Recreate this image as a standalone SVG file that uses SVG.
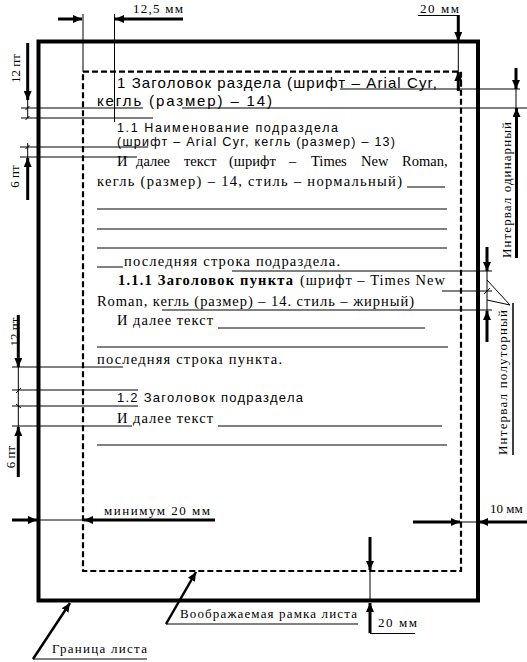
<svg xmlns="http://www.w3.org/2000/svg" width="527" height="662" viewBox="0 0 527 662">
<defs>
<marker id="ah" markerUnits="userSpaceOnUse" markerWidth="9" markerHeight="8" viewBox="0 0 9 8" refX="9" refY="4" orient="auto">
<path d="M0,0 L9,4 L0,8 z" fill="#000"/>
</marker>
<style>
.thin{stroke:#000;stroke-width:1;fill:none}
.thick{stroke:#000;stroke-width:3;fill:none;marker-end:url(#ah)}
.lead{stroke:#000;stroke-width:2.5;fill:none;marker-end:url(#ah)}
.arial{font-family:"Liberation Sans",Arial,sans-serif;fill:#000}
.times{font-family:"Liberation Serif","Times New Roman",serif;fill:#000}
.t15{font-size:15px}
.t13{font-size:13px}
.t125{font-size:12.5px}
.t145{font-size:14.5px}
</style>
</defs>
<rect width="527" height="662" fill="#fff"/>

<g id="sheet-border">
<rect x="38.5" y="41.5" width="439.5" height="559" fill="none" stroke="#000" stroke-width="4"/>
</g>
<g id="imaginary-frame">
<rect x="83" y="71.7" width="378" height="499.3" fill="none" stroke="#000" stroke-width="2.2" stroke-dasharray="6,3"/>
</g>

<g id="connectors">
<line class="thin" x1="83" y1="14" x2="83" y2="72"/>
<line class="thin" x1="114.5" y1="14" x2="114.5" y2="122"/>
<line class="thick" x1="58" y1="19" x2="82" y2="19"/>
<line class="thick" x1="183" y1="19" x2="115" y2="19"/>
<line class="thin" x1="418" y1="15.5" x2="458" y2="15.5"/>
<line class="thick" x1="458.3" y1="15" x2="458.3" y2="41"/>
<line class="thin" x1="458.3" y1="41" x2="458.3" y2="72"/>
<line class="thick" x1="458.3" y1="91" x2="458.3" y2="72"/>
<line class="thick" x1="516" y1="68" x2="516" y2="89"/>
<line class="thin" x1="516" y1="89" x2="516" y2="108"/>
<line class="thick" x1="516.5" y1="258" x2="516.5" y2="108"/>
<line class="thick" x1="487" y1="247" x2="487" y2="271"/>
<line class="thin" x1="487" y1="271" x2="487" y2="311"/>
<line class="thick" x1="487" y1="342" x2="487" y2="311"/>
<line class="thin" x1="487" y1="280" x2="510" y2="305"/>
<line class="thin" x1="487" y1="300" x2="510" y2="305"/>
<line class="thin" x1="513" y1="303" x2="513" y2="455" style="stroke-width:1.5"/>
<line class="thin" x1="484" y1="294" x2="490" y2="288"/>
<line class="thick" x1="27.7" y1="43" x2="27.7" y2="100"/>
<line class="thin" x1="27.7" y1="100" x2="27.7" y2="118"/>
<line class="thin" x1="25.5" y1="110" x2="29.5" y2="106"/>
<line class="thin" x1="25.5" y1="120" x2="29.5" y2="116"/>
<line class="thin" x1="27.7" y1="143" x2="27.7" y2="158"/>
<line class="thin" x1="25.5" y1="149" x2="29.5" y2="145"/>
<line class="thick" x1="27.7" y1="200" x2="27.7" y2="158"/>
<line class="thick" x1="18.3" y1="315" x2="18.3" y2="367"/>
<line class="thin" x1="18.3" y1="367" x2="18.3" y2="427"/>
<line class="thin" x1="16" y1="393" x2="21" y2="388"/>
<line class="thin" x1="16" y1="404" x2="21" y2="408"/>
<line class="thick" x1="18.3" y1="477" x2="18.3" y2="427"/>
<line class="thick" x1="12" y1="520" x2="37" y2="520"/>
<line class="thin" x1="37" y1="520" x2="83" y2="520"/>
<line class="thick" x1="215" y1="520" x2="84" y2="520"/>
<line class="thick" x1="413" y1="522" x2="460" y2="522"/>
<line class="thin" x1="460" y1="522" x2="478" y2="522"/>
<line class="thick" x1="527" y1="522" x2="479" y2="522"/>
<line class="thick" x1="370" y1="537" x2="370" y2="570"/>
<line class="thin" x1="370" y1="570" x2="370" y2="601"/>
<line class="thick" x1="370" y1="633" x2="370" y2="603"/>
<line class="thin" x1="370" y1="633.5" x2="415" y2="633.5"/>
<line class="thin" x1="166" y1="624" x2="358" y2="624"/>
<line class="lead" x1="166" y1="624" x2="196" y2="572"/>
<line class="thin" x1="33" y1="659" x2="147" y2="659"/>
<line class="lead" x1="33" y1="659" x2="70" y2="603"/>
</g>

<g id="rules">
<line class="thin" x1="340" y1="89" x2="520" y2="89"/>
<line class="thin" x1="21" y1="108" x2="143" y2="108"/>
<line class="thin" x1="182" y1="108" x2="527" y2="108"/>
<line class="thin" x1="21" y1="118" x2="153" y2="118"/>
<line class="thin" x1="20" y1="147" x2="148" y2="147"/>
<line class="thin" x1="20" y1="157" x2="137" y2="157"/>
<line class="thin" x1="407" y1="187" x2="445" y2="187"/>
<line class="thin" x1="97" y1="209" x2="447" y2="209"/>
<line class="thin" x1="97" y1="229" x2="447" y2="229"/>
<line class="thin" x1="97" y1="248" x2="447" y2="248"/>
<line class="thin" x1="97" y1="267" x2="123" y2="267"/>
<line class="thin" x1="232" y1="271" x2="492" y2="271"/>
<line class="thin" x1="442" y1="291" x2="492" y2="291"/>
<line class="thin" x1="162" y1="310" x2="492" y2="310"/>
<line class="thin" x1="218" y1="328" x2="425" y2="328"/>
<line class="thin" x1="97" y1="347" x2="448" y2="347"/>
<line class="thin" x1="12" y1="367" x2="123" y2="367"/>
<line class="thin" x1="12" y1="390" x2="138" y2="390"/>
<line class="thin" x1="12" y1="406" x2="138" y2="406"/>
<line class="thin" x1="12" y1="426" x2="132" y2="426"/>
<line class="thin" x1="218" y1="426" x2="442" y2="426"/>
<line class="thin" x1="97" y1="445" x2="447" y2="445"/>
</g>

<g id="text-block">
<text class="arial t15" x="117" y="88" textLength="320" lengthAdjust="spacing">1 Заголовок раздела (шрифт – Arial Cyr,</text>
<text class="arial t15" x="97" y="106" textLength="175" lengthAdjust="spacing">кегль (размер) – 14)</text>
<text class="arial t125" x="117" y="131.5" textLength="221" lengthAdjust="spacing">1.1 Наименование подраздела</text>
<text class="arial t125" x="117" y="145.5" textLength="278" lengthAdjust="spacing">(шрифт – Arial Cyr, кегль (размер) – 13)</text>
<text class="times t145" y="166"><tspan x="117">И</tspan><tspan x="136">далее</tspan><tspan x="184">текст</tspan><tspan x="229">(шрифт</tspan><tspan x="289">–</tspan><tspan x="311">Times</tspan><tspan x="361">New</tspan><tspan x="402">Roman,</tspan></text>
<text class="times t145" x="97" y="186" textLength="305" lengthAdjust="spacing">кегль (размер) – 14, стиль – нормальный)</text>
<text class="times t145" x="124" y="266" textLength="216" lengthAdjust="spacing">последняя строка подраздела.</text>
<text class="times t145" x="118" y="285" font-weight="bold" textLength="175" lengthAdjust="spacing">1.1.1 Заголовок пункта</text>
<text class="times t145" x="300" y="285" textLength="145" lengthAdjust="spacing">(шрифт – Times New</text>
<text class="times t145" x="97" y="306" textLength="317" lengthAdjust="spacing">Roman, кегль (размер) – 14. стиль – жирный)</text>
<text class="times t145" x="117" y="325" textLength="96" lengthAdjust="spacing">И далее текст</text>
<text class="times t145" x="97" y="364" textLength="185" lengthAdjust="spacing">последняя строка пункта.</text>
<text class="arial t13" x="117" y="402" textLength="186" lengthAdjust="spacing">1.2 Заголовок подраздела</text>
<text class="times t145" x="117" y="423" textLength="96" lengthAdjust="spacing">И далее текст</text>
</g>

<g id="labels">
<text class="times t13" x="133" y="13" textLength="50" lengthAdjust="spacing">12,5 мм</text>
<text class="times t13" x="420" y="13" textLength="39" lengthAdjust="spacing">20 мм</text>
<text class="times t13" text-anchor="middle" transform="translate(20,68.5) rotate(-90)">12 пт</text>
<text class="times t13" text-anchor="middle" transform="translate(19,176.5) rotate(-90)">6 пт</text>
<text class="times t13" text-anchor="middle" transform="translate(19,332) rotate(-90)">12 пт</text>
<text class="times t13" text-anchor="middle" transform="translate(15,457) rotate(-90)">6 пт</text>
<text class="times t13" transform="translate(511,258) rotate(-90)" textLength="136" lengthAdjust="spacing">Интервал одинарный</text>
<text class="times t13" transform="translate(507,455) rotate(-90)" textLength="145" lengthAdjust="spacing">Интервал полуторный</text>
<text class="times t13" x="104" y="515" textLength="106" lengthAdjust="spacing">минимум 20 мм</text>
<text class="times t13" x="490" y="513">10 мм</text>
<text class="times t13" x="378" y="627" textLength="39" lengthAdjust="spacing">20 мм</text>
<text class="times t13" x="180" y="618" textLength="177" lengthAdjust="spacing">Воображаемая рамка листа</text>
<text class="times t13" x="52" y="653" textLength="95" lengthAdjust="spacing">Граница листа</text>
</g>
</svg>
